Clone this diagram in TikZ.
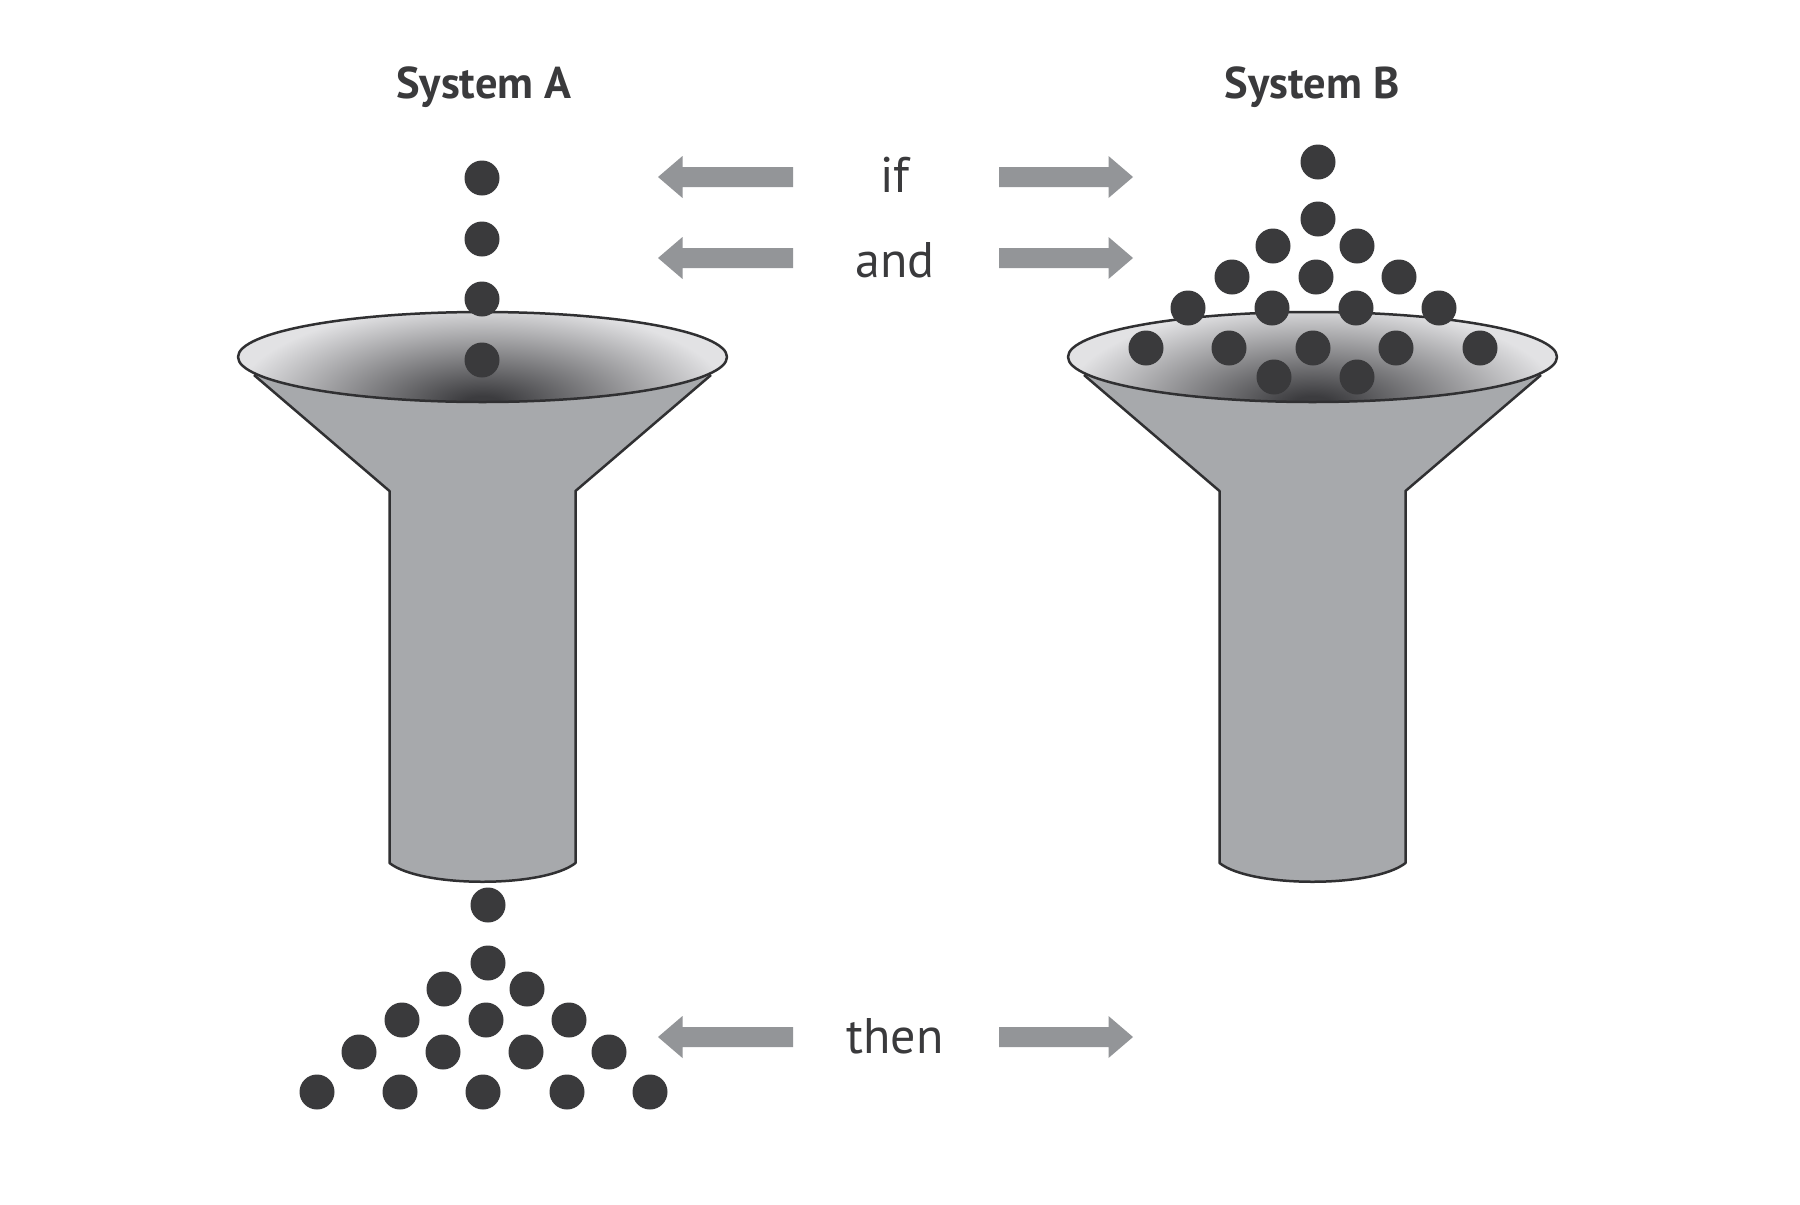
\documentclass[tikz,border=0pt]{standalone}
\usepackage{fontspec}
\setmainfont{PT Sans}
\begin{document}
\definecolor{ballc}{HTML}{3A3A3C}
\definecolor{funnelc}{HTML}{A7A9AC}
\definecolor{rimc}{HTML}{303032}
\definecolor{arrowc}{HTML}{939598}
\definecolor{txtc}{HTML}{3A3A3C}
\definecolor{shdark}{HTML}{3C3C3F}
\definecolor{shlight}{HTML}{E2E2E4}
\pgfdeclareradialshading{funnelshade}{\pgfpoint{0bp}{0bp}}{color(0bp)=(shdark); color(2bp)=(shdark); color(25bp)=(shlight); color(50bp)=(shlight)}
\begin{tikzpicture}[x=1pt,y=-1pt,
  ballst/.style={fill=ballc,draw=none},
  rimline/.style={draw=rimc,line width=2.5pt,line join=round},
  blockarrow/.style={fill=arrowc,draw=none},
  wordst/.style={text=txtc,anchor=base,inner sep=0pt,font=\fontsize{50}{56}\selectfont},
  titlest/.style={text=txtc,anchor=base,inner sep=0pt,font=\bfseries\fontsize{44.5}{50}\selectfont}]
\useasboundingbox (0,0) rectangle (1800,1205);
\fill[white] (0,0) rectangle (1800,1205);

% funnels
\foreach \dx in {0,830}{
\begin{scope}[xshift=\dx pt]
  \fill[funnelc] (254,375) -- (389.5,491) -- (389.5,863) .. controls (421,888) and (544,888) .. (575.5,863) -- (575.5,491) -- (711,375) -- cycle;
  \draw[rimline] (254,375) -- (389.5,491) -- (389.5,863) .. controls (421,888) and (544,888) .. (575.5,863) -- (575.5,491) -- (711,375);
  \fill[shlight] (482.5,357) ellipse [x radius=244.5pt, y radius=45pt];
  \begin{scope}
    \clip (482.5,357) ellipse [x radius=244.5pt, y radius=45pt];
    \shade[shading=funnelshade] (482.5,404) ellipse [x radius=250pt, y radius=100pt];
  \end{scope}
  \draw[rimline] (482.5,357) ellipse [x radius=244.5pt, y radius=45pt];
\end{scope}
}

% balls of system A
\foreach \p in {(482,178),(482,239),(482,299),(482,360),
  (488,905),(488,963),(444,989),(527,989),(402,1020),(486,1020),(569,1020),
  (359,1052),(443,1052),(526,1052),(609,1052),
  (317,1092),(400,1092),(483,1092),(567,1092),(650,1092)}
  \fill[ballst] \p circle[radius=17.5pt];

% balls of system B
\foreach \p in {(1318,162),(1318,219),(1273,246),(1357,246),
  (1232,277),(1316,277),(1399,277),
  (1188,308),(1272,308),(1356,308),(1439,308),
  (1146,348),(1229,348),(1313,348),(1396,348),(1480,348),
  (1274,377),(1357,377)}
  \fill[ballst] \p circle[radius=17.5pt];

% block arrows
\foreach \y in {177,258,1037}{
  \fill[blockarrow] (658,\y) -- (682.5,\y-21) -- (682.5,\y-10) -- (793,\y-10) -- (793,\y+10) -- (682.5,\y+10) -- (682.5,\y+21) -- cycle;
  \fill[blockarrow] (1133,\y) -- (1108.5,\y-21) -- (1108.5,\y-10) -- (999,\y-10) -- (999,\y+10) -- (1108.5,\y+10) -- (1108.5,\y+21) -- cycle;
}

% texts
\node[titlest] (tA) at (484,98) {System A};
\node[titlest] (tB) at (1312,98) {System B};
\node[wordst] (tif) at (895,192) {if};
\node[wordst] (tand) at (895,277) {and};
\node[wordst] (tthen) at (895,1053) {then};
\end{tikzpicture}
\end{document}
